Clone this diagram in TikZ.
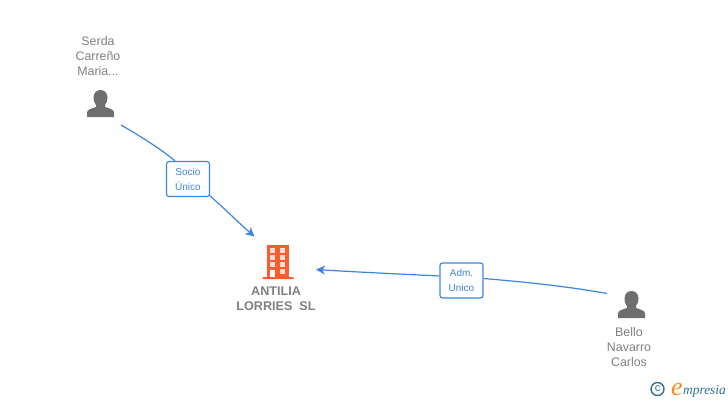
\documentclass[tikz,border=0pt]{standalone}
\usepackage{fontspec}
\setmainfont{Liberation Sans}
\newfontfamily\logofont{Liberation Serif}
\usetikzlibrary{arrows.meta,positioning,calc}
\definecolor{linkblue}{HTML}{3F83E0}
\definecolor{textgray}{HTML}{808080}
\definecolor{icongray}{HTML}{6E6E6E}
\definecolor{towerred}{HTML}{FF5B2E}
\definecolor{logoblue}{HTML}{2F6F8F}
\definecolor{logoorange}{HTML}{F28C1E}

\begin{document}
\begin{tikzpicture}[x=1pt,y=-1pt,>={Stealth[length=9,width=9,inset=2.5]},
  name node/.style={font=\fontsize{12.4}{15}\selectfont,text=textgray,align=center,inner sep=0},
  firm node/.style={font=\fontsize{12.6}{15.5}\selectfont\bfseries,text=textgray,align=center,inner sep=0},
  role node/.style={draw=linkblue,fill=white,rounded corners=2.5,line width=1.2,font=\fontsize{10}{15}\selectfont,
    text=linkblue,align=center,inner sep=0,minimum width=43,minimum height=35},
  link/.style={draw=linkblue,line width=1.2},
  person/.pic={
    \fill[icongray] (-13.5,13.5) -- (-13.5,9) .. controls (-13.5,6) and (-9,5) .. (-4.5,3.5)
      -- (-4.5,1.5) .. controls (-6.5,-1) and (-7,-3) .. (-7,-6)
      .. controls (-7,-11) and (-3.5,-13.5) .. (0,-13.5)
      .. controls (3.5,-13.5) and (7,-11) .. (7,-6)
      .. controls (7,-3) and (6.5,-1) .. (4.5,1.5) -- (4.5,3.5)
      .. controls (9,5) and (13.5,6) .. (13.5,9) -- (13.5,13.5) -- cycle;
  },
  tower/.pic={
    \fill[towerred,rounded corners=0.5] (-15.5,15) rectangle (15.5,17);
    \fill[towerred] (-11.3,-17) rectangle (11.3,16);
    \foreach \wx in {-5.5,4.5}
      \foreach \wy in {-11.5,-4.5,2.5}
        \fill[white!80!towerred] (\wx-2.5,\wy-2.3) rectangle (\wx+2.5,\wy+2.3);
    \fill[white!80!towerred] (2,7) rectangle (7,12);
    \fill[white] (-8,7.5) rectangle (-3,15);
  }]
    \useasboundingbox (0,0) rectangle (728,400);

    \node[name node] (serdaname) at (98,56) {Serda\\Carreño\\Maria...};
    \pic at (100.5,103.5) {person};
    \node[name node] (bellname) at (629,347) {Bello\\Navarro\\Carlos};
    \pic at (631.5,304.5) {person};

    \pic at (278,262) {tower};
    \node[firm node] (antilia) at (276,298.5) {ANTILIA\\LORRIES\ \ SL};

    \coordinate (serda) at (121,125);
    \coordinate (bello) at (607,293.5);
    \coordinate (antiliaup) at (254.5,236.5);
    \coordinate (antiliaright) at (316,269.5);
    \node[role node] (socio) at (188,179) {Socio\\Único};
    \node[role node] (adm) at (461.5,280.5) {Adm.\\Unico};

    \path[link] (serda) .. controls (145,139) and (162,150) .. (socio.north west -| 175,161);
    \draw[link,->] (socio.south east) ++(-1,-2) .. controls (225,209) and (240,224) .. (antiliaup);
    \path[link] (bello) .. controls (565,286) and (525,282) .. (adm.east |- 483,278.5);
    \draw[link,->] (adm.west |- 439.5,276) .. controls (400,274) and (355,272) .. (antiliaright);

    % logo
    \node[circle,draw=logoblue,line width=1.4,text=logoblue,font=\fontsize{11}{11}\selectfont,
      inner sep=0,minimum size=13] (copyr) at (657.5,389) {c};
    \node[inner sep=0,anchor=base west,text=logoorange,font=\logofont\itshape\fontsize{26}{26}\selectfont] (logoe) at (671,395) {e};
    \node[inner sep=0,anchor=base west,text=logoblue,font=\logofont\itshape\fontsize{13.4}{14}\selectfont] (logotext) at (683,394) {mpresia};
\end{tikzpicture}
\end{document}
